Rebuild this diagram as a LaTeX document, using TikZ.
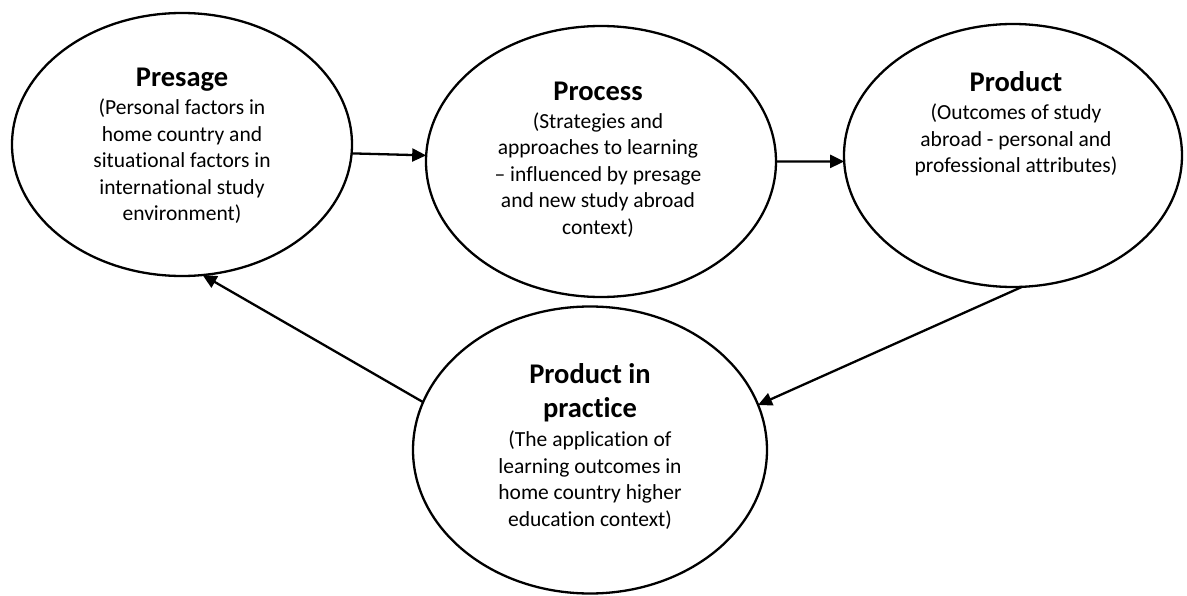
\documentclass[tikz,border=0pt]{standalone}
\usepackage{fontspec}
\setmainfont{Carlito}[Ligatures=NoCommon]
\usetikzlibrary{shapes.geometric,arrows.meta}
\newcommand\stagetitle[1]{{\fontsize{28.5}{34}\selectfont\bfseries #1}}
\begin{document}
\begin{tikzpicture}[x=1pt,y=-1pt,
  stage/.style={ellipse,draw,line width=2.3pt,inner sep=0pt,outer sep=0pt},
  % a multi-line node's base is the baseline of its last line
  caption/.style={align=center,anchor=base,inner sep=0pt,
    font=\fontsize{21.5}{26.5}\selectfont},
  flow/.style={-{Triangle[length=14pt,width=13pt]},line width=2.3pt}]
\useasboundingbox (0,0) rectangle (1187,596);

% the four stages
\node[stage,minimum width=340pt,minimum height=263pt] (presage) at (182,144.5) {};
\node[stage,minimum width=350pt,minimum height=271pt] (process) at (601,161.5) {};
\node[stage,minimum width=338pt,minimum height=263pt] (product) at (1013,155.5) {};
\node[stage,minimum width=354pt,minimum height=287pt] (practice) at (590,450) {};

% stage texts
\node[caption] (presage-text) at (182,221) {\stagetitle{Presage}\\[2pt]
  (Personal factors in\\ home country and\\ situational factors in\\
  international study\\ environment)};
\node[caption] (process-text) at (598,234.5) {\stagetitle{Process}\\[1.5pt]
  (Strategies and\\ approaches to learning\\ – influenced by presage\\
  and new study abroad\\ context)};
\node[caption] (product-text) at (1016,173) {\stagetitle{Product}\\[1.5pt]
  (Outcomes of study\\ abroad - personal and\\ professional attributes)};
\node[caption] (practice-text) at (590,526) {\stagetitle{Product in}\\[7.5pt]
  \stagetitle{practice}\\[2.5pt]
  (The application of\\ learning outcomes in\\ home country higher\\
  education context)};

% the cycle
\draw[flow] (presage.-3) -- (process.178.5);
\draw[flow] (process.0) -- (product.-178);
\draw[flow] (product.-86) -- (practice.15);
\draw[flow] (practice.164) -- (presage.-81);
\end{tikzpicture}
\end{document}
